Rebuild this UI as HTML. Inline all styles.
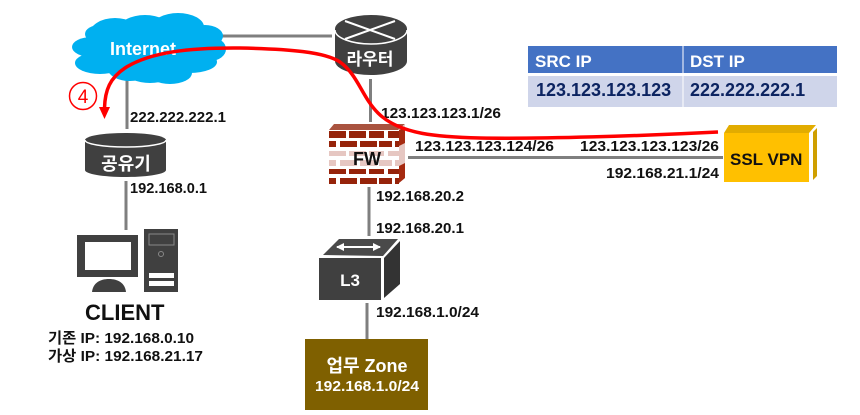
<!DOCTYPE html>
<html><head><meta charset="utf-8"><style>
html,body{margin:0;padding:0;background:#fff}
svg{display:block}
text{font-family:"Liberation Sans","Noto Sans CJK KR",sans-serif}
.l{font-size:15px;font-weight:bold;fill:#111}
</style></head><body>
<svg width="860" height="415" viewBox="0 0 860 415" xmlns="http://www.w3.org/2000/svg">
<rect width="860" height="415" fill="#fff"/>
<!-- connectors -->
<g stroke="#7f7f7f" stroke-width="3" fill="none">
<path d="M222 36H332"/><path d="M127 78V129"/><path d="M126 181V230"/>
<path d="M370.500 79V122"/><path d="M369 187V236"/><path d="M367 303V339"/>
<path d="M408 157.500H723"/>
</g>
<!-- cloud -->
<g fill="#00b0f0">
<ellipse cx="150" cy="48" rx="70" ry="24"/>
<ellipse cx="92" cy="47" rx="20" ry="10"/>
<ellipse cx="100" cy="63" rx="25" ry="11"/>
<ellipse cx="100" cy="34" rx="15" ry="9"/>
<ellipse cx="115" cy="35" rx="26" ry="17"/>
<ellipse cx="145" cy="29" rx="26" ry="14"/>
<ellipse cx="178" cy="27" rx="26" ry="14"/>
<ellipse cx="205" cy="36" rx="18" ry="11"/>
<ellipse cx="210" cy="49" rx="16" ry="12"/>
<ellipse cx="190" cy="62" rx="27" ry="11"/>
<ellipse cx="130" cy="69" rx="22" ry="12"/>
<ellipse cx="150" cy="72" rx="24" ry="11"/>
<ellipse cx="170" cy="73" rx="22" ry="11"/>
</g>
<text x="110" y="55" font-size="18" font-weight="bold" fill="#fff">Internet</text>
<!-- router -->
<path d="M335 29V61C335 69 352 75 371 75S407 69 407 61V29Z" fill="#404040"/>
<ellipse cx="371" cy="29" rx="36" ry="14" fill="#404040"/>
<path d="M335 30C335 38 352 44 371 44S407 38 407 30" fill="none" stroke="#fff" stroke-width="1.500"/>
<path d="M345 21L395 39M395 21L345 39" stroke="#fff" stroke-width="2"/>
<text x="370" y="65" font-size="17" font-weight="bold" fill="#fff" text-anchor="middle">라우터</text>
<!-- gongyugi -->
<path d="M85 141V170C85 174 103 177 125.500 177S166 174 166 170V141Z" fill="#404040"/>
<ellipse cx="125.500" cy="140" rx="40.500" ry="7" fill="#404040"/>
<path d="M85 140C85 144 103 147 125.500 147S166 144 166 140" fill="none" stroke="#fff" stroke-width="1.500"/>
<text x="126" y="170" font-size="18" font-weight="bold" fill="#fff" text-anchor="middle">공유기</text>
<!-- firewall -->
<path d="M399 128L405 125V178L399 183Z" fill="#e6c7c2"/>
<path d="M334 124H405L398 130H329Z" fill="#a9533f"/>
<path d="M399 130L405 127V143L399 146ZM399 166L405 163V178L399 183Z" fill="#a52a10"/>
<g fill="#96230a">
<rect x="329" y="131" width="17" height="7"/><rect x="349" y="131" width="17" height="7"/><rect x="369" y="131" width="15" height="7"/><rect x="388" y="131" width="11" height="7"/>
<rect x="329" y="141" width="7" height="6"/><rect x="340" y="141" width="17" height="6"/><rect x="360" y="141" width="17" height="6"/><rect x="379" y="141" width="13" height="6"/><rect x="395" y="141" width="4" height="6"/>
<rect x="329" y="169" width="17" height="5"/><rect x="349" y="169" width="17" height="5"/><rect x="369" y="169" width="15" height="5"/><rect x="388" y="169" width="11" height="5"/>
<rect x="329" y="178" width="7" height="6"/><rect x="340" y="178" width="17" height="6"/><rect x="360" y="178" width="17" height="6"/><rect x="379" y="178" width="13" height="6"/><rect x="395" y="178" width="4" height="6"/>
</g>
<g fill="#e6c7c2">
<rect x="329" y="151" width="17" height="5"/><rect x="349" y="151" width="17" height="5"/><rect x="369" y="151" width="15" height="5"/><rect x="388" y="151" width="11" height="5"/>
<rect x="329" y="160" width="7" height="6"/><rect x="340" y="160" width="17" height="6"/><rect x="360" y="160" width="17" height="6"/><rect x="379" y="160" width="13" height="6"/><rect x="395" y="160" width="4" height="6"/>
</g>
<text x="367" y="165" font-size="18" font-weight="bold" fill="#111" text-anchor="middle">FW</text>
<!-- table -->
<rect x="528" y="46" width="154.500" height="27" fill="#4472c4"/>
<rect x="683.500" y="46" width="153.500" height="27" fill="#4472c4"/>
<rect x="528" y="76" width="154.500" height="31" fill="#cfd5ea"/>
<rect x="683.500" y="76" width="153.500" height="31" fill="#cfd5ea"/>
<text x="535" y="67" font-size="17" font-weight="bold" fill="#fff">SRC IP</text>
<text x="690" y="67" font-size="17" font-weight="bold" fill="#fff">DST IP</text>
<text x="536" y="96" font-size="18" font-weight="bold" fill="#0c2461">123.123.123.123</text>
<text x="690" y="96" font-size="18" font-weight="bold" fill="#0c2461">222.222.222.1</text>
<!-- SSL VPN -->
<path d="M724 133L729 125H816L809 133Z" fill="#e2ac00"/>
<path d="M813 132L817 128V176L813 180Z" fill="#cf9f00"/>
<rect x="724" y="133" width="85" height="49" fill="#ffc000"/>
<text x="730" y="165" font-size="17" font-weight="bold" fill="#111">SSL VPN</text>
<!-- client -->
<rect x="77" y="235" width="61" height="42" fill="#404040"/>
<rect x="85" y="242" width="46" height="28" fill="#fff"/>
<path d="M92 292C93 283 100 279 109 279S125 283 126 292Z" fill="#404040"/>
<rect x="144" y="229" width="34" height="63" fill="#404040"/>
<rect x="149" y="234" width="25" height="11" fill="none" stroke="#888" stroke-width="1"/>
<circle cx="161" cy="254" r="2.500" fill="none" stroke="#888"/>
<rect x="149" y="273" width="25" height="5" fill="#fff"/>
<rect x="149" y="281" width="25" height="5" fill="#fff"/>
<text x="85" y="320" font-size="22" font-weight="bold" fill="#111">CLIENT</text>
<text x="48" y="343" class="l" textLength="146" lengthAdjust="spacingAndGlyphs">기존 IP: 192.168.0.10</text>
<text x="48" y="361" class="l" textLength="155" lengthAdjust="spacingAndGlyphs">가상 IP: 192.168.21.17</text>
<!-- L3 -->
<path d="M323 255L339 239H398L383 256Z" fill="#4a4a4a"/>
<path d="M384 258L400 241V284L384 298Z" fill="#333"/>
<rect x="319" y="258" width="62" height="42" fill="#404040"/>
<path d="M337 247H380" stroke="#fff" stroke-width="2"/>
<path d="M336 247L344 243V251ZM381 247L373 243V251Z" fill="#fff"/>
<text x="350" y="286" font-size="17" font-weight="bold" fill="#fff" text-anchor="middle">L3</text>
<!-- zone -->
<rect x="305" y="339" width="123" height="71" fill="#7f6000"/>
<text x="367" y="372" font-size="18" font-weight="bold" fill="#fff" text-anchor="middle">업무 Zone</text>
<text x="315" y="391" font-size="15" font-weight="bold" fill="#fff" textLength="104" lengthAdjust="spacingAndGlyphs">192.168.1.0/24</text>
<!-- labels -->
<text x="130" y="122" class="l" textLength="96" lengthAdjust="spacingAndGlyphs">222.222.222.1</text>
<text x="130" y="193" class="l" textLength="77" lengthAdjust="spacingAndGlyphs">192.168.0.1</text>
<text x="381" y="118" class="l" textLength="120" lengthAdjust="spacingAndGlyphs">123.123.123.1/26</text>
<text x="415" y="151" class="l" textLength="139" lengthAdjust="spacingAndGlyphs">123.123.123.124/26</text>
<text x="580" y="151" class="l" textLength="139" lengthAdjust="spacingAndGlyphs">123.123.123.123/26</text>
<text x="606" y="178" class="l" textLength="113" lengthAdjust="spacingAndGlyphs">192.168.21.1/24</text>
<text x="376" y="201" class="l" textLength="88" lengthAdjust="spacingAndGlyphs">192.168.20.2</text>
<text x="376" y="233" class="l" textLength="88" lengthAdjust="spacingAndGlyphs">192.168.20.1</text>
<text x="376" y="317" class="l" textLength="103" lengthAdjust="spacingAndGlyphs">192.168.1.0/24</text>
<!-- red path -->
<path d="M718 132C640 136 540 139 480 138C440 137 400 135 378 113C362 97 358 75 340 62C325 52 290 49 240 48C190 47.500 150 52 125 68C110 78 105 90 104.500 108" fill="none" stroke="#f00" stroke-width="3.500"/>
<path d="M99 107H110L104.500 119Z" fill="#f00"/>
<circle cx="83" cy="96" r="13.500" fill="#fff" stroke="#f00" stroke-width="1.500"/>
<text x="83" y="103" font-size="19" fill="#f00" text-anchor="middle">4</text>
</svg>
</body></html>
